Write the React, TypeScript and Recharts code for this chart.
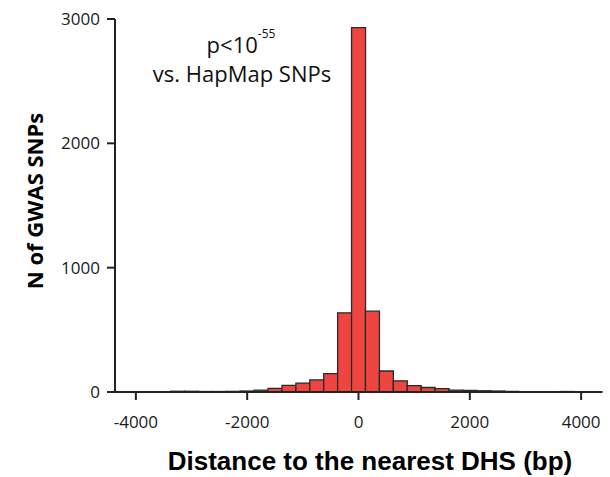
import React from "react";
import { BarChart, Bar, XAxis, YAxis, Customized } from "recharts";

const bins = [
  -4250, -4000, -3750, -3500, -3250, -3000, -2750, -2500, -2250, -2000, -1750, -1500,
  -1250, -1000, -750, -500, -250, 0, 250, 500, 750, 1000, 1250, 1500, 1750, 2000,
  2250, 2500, 2750, 3000, 3250, 3500, 3750, 4000, 4250,
];
const counts = [
  1, 2, 2, 3, 6, 6, 4, 4, 5, 8, 15, 29,
  53, 72, 98, 148, 637, 2930, 650, 169, 90, 52, 36, 27, 15, 12,
  10, 8, 4, 3, 2, 3, 4, 2, 1,
];
const xTicks = [-4000, -2000, 0, 2000, 4000];
const yTicks = [0, 1000, 2000, 3000];
const xTitle = "Distance to the nearest DHS (bp)";
const yTitle = "N of GWAS SNPs";
const noteLine1 = "p<10";
const noteSup = "-55";
const noteLine2 = "vs. HapMap SNPs";

const data = bins.map((b, i) => ({ bin: b, n: counts[i] }));

const tickFont = { fontFamily: "Open Sans", fontSize: 17, fill: "#1a1a1a" };

const Annotations = () => (
  <g>
    <text x={241} y={53} textAnchor="middle" fontFamily="Open Sans" fontSize={22} fill="#111">
      <tspan>{noteLine1}</tspan>
      <tspan dy={-15} fontSize={12}>{noteSup}</tspan>
    </text>
    <text x={242} y={81.5} textAnchor="middle" fontFamily="Open Sans" fontSize={22} fill="#111">
      {noteLine2}
    </text>
    <text
      x={370}
      y={470}
      textAnchor="middle"
      fontFamily="Liberation Sans"
      fontWeight="bold"
      fontSize={26}
      fill="#000"
    >
      {xTitle}
    </text>
    <text
      x={0}
      y={0}
      transform="translate(43,201) rotate(-90)"
      textAnchor="middle"
      fontFamily="Open Sans"
      fontWeight="bold"
      fontSize={22}
      fill="#000"
    >
      {yTitle}
    </text>
  </g>
);

export default function App() {
  return (
    <div style={{ position: "absolute", left: 0, top: 0 }}>
      <BarChart
        width={610}
        height={477}
        data={data}
        margin={{ top: 19, right: 8, left: 0, bottom: 0 }}
        barCategoryGap={0}
        barGap={0}
      >
        <XAxis
          dataKey="bin"
          type="category"
          ticks={xTicks}
          interval={0}
          height={85}
          tickSize={8}
          tickMargin={16}
          tick={tickFont}
          axisLine={{ stroke: "#222", strokeWidth: 2 }}
          tickLine={{ stroke: "#222", strokeWidth: 2 }}
        />
        <YAxis
          type="number"
          domain={[0, 3000]}
          ticks={yTicks}
          width={115}
          tickSize={8}
          tickMargin={7}
          tick={tickFont}
          axisLine={{ stroke: "#222", strokeWidth: 2 }}
          tickLine={{ stroke: "#222", strokeWidth: 2 }}
        />
        <Bar dataKey="n" fill="#EF4541" stroke="#2a2a2a" strokeWidth={1.3} isAnimationActive={false} />
        <Customized component={Annotations} />
      </BarChart>
    </div>
  );
}
